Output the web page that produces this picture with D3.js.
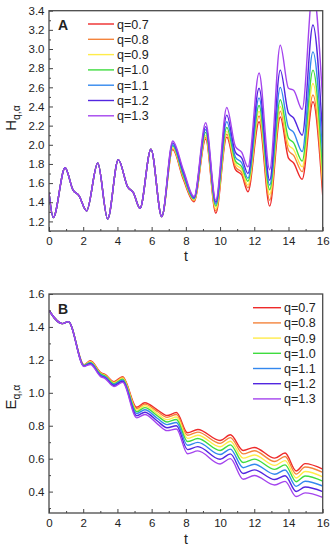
<!DOCTYPE html>
<html>
<head>
<meta charset="utf-8">
<script src="https://cdn.jsdelivr.net/npm/d3@7"></script>
<style>
  body { margin: 0; background: #fff; }
  svg { display: block; }
  text { font-family: "Liberation Sans", Arial, sans-serif; fill: #222; }
</style>
</head>
<body>
<script>
// legend labels and line colours (q = 0.7 ... 1.3)
var qLabels = ["q=0.7", "q=0.8", "q=0.9", "q=1.0", "q=1.1", "q=1.2", "q=1.3"];
var qColors = ["#ee2a2a", "#f4843c", "#ffec4a", "#3fdc3f", "#3388ee", "#5226e0", "#a444ee"];

var tTicks = [0, 2, 4, 6, 8, 10, 12, 14, 16];

// panel A : H_q,alpha vs t  (all curves coincide until t ~ 6.6)
var tH = [0, 0.25, 0.94, 1.4, 1.75, 2.2, 2.85, 3.43, 4.05, 4.6, 4.93, 5.32, 5.96, 6.59,
          7.23, 7.85, 8.48, 9.16, 9.75, 10.39, 10.9, 11.27, 11.63, 12.28, 12.9, 13.52, 14.0, 14.3, 14.8, 15.43, 16];
var hStart = [1.50, 1.24, 1.76, 1.53, 1.47, 1.31, 1.81, 1.225, 1.845, 1.56, 1.50, 1.337, 1.955, 1.25];
var h07 = hStart.concat([1.95, 1.64, 1.405, 2.06, 1.285, 2.08, 1.74, 1.685, 1.51, 2.24, 1.36, 2.29, 1.86, 1.81, 1.64, 2.45, 1.47]);
var h08 = hStart.concat([1.96, 1.655, 1.415, 2.08, 1.31, 2.11, 1.77, 1.71, 1.55, 2.30, 1.42, 2.35, 1.94, 1.89, 1.72, 2.52, 1.55]);
var h09 = hStart.concat([1.97, 1.67, 1.425, 2.10, 1.33, 2.14, 1.80, 1.74, 1.58, 2.35, 1.48, 2.40, 2.00, 1.95, 1.77, 2.64, 1.62]);
var h10 = hStart.concat([1.99, 1.68, 1.435, 2.13, 1.36, 2.18, 1.83, 1.77, 1.62, 2.41, 1.53, 2.47, 2.07, 2.02, 1.83, 2.78, 1.72]);
var h11 = hStart.concat([2.00, 1.70, 1.44, 2.16, 1.38, 2.24, 1.87, 1.81, 1.65, 2.49, 1.58, 2.60, 2.18, 2.13, 1.93, 2.97, 1.88]);
var h12 = hStart.concat([2.02, 1.72, 1.45, 2.19, 1.40, 2.31, 1.92, 1.86, 1.70, 2.59, 1.63, 2.78, 2.33, 2.28, 2.10, 3.25, 2.08]);
var h13 = hStart.concat([2.04, 1.74, 1.46, 2.23, 1.42, 2.39, 1.98, 1.92, 1.77, 2.75, 1.74, 3.04, 2.59, 2.57, 2.37, 3.62, 2.45]);

// panel B : E_q,alpha vs t
var tE = [0, 0.78, 1.13, 2.05, 2.42, 3.0, 3.3, 3.8, 4.3, 5.13, 5.6, 6.35, 6.9, 7.45, 8.1, 8.7,
          10.0, 10.6, 11.35, 12.0, 13.2, 13.8, 14.45, 14.97, 16];
var eStart = [1.50, 1.42, 1.432];
var e07 = eStart.concat([1.170, 1.195, 1.125, 1.110, 1.068, 1.098, 0.912, 0.940, 0.895, 0.862, 0.880, 0.757, 0.777, 0.710, 0.745, 0.650, 0.668, 0.603, 0.634, 0.525, 0.570, 0.537]);
var e08 = eStart.concat([1.169, 1.192, 1.122, 1.107, 1.064, 1.094, 0.904, 0.931, 0.885, 0.851, 0.868, 0.742, 0.761, 0.693, 0.728, 0.629, 0.648, 0.583, 0.613, 0.506, 0.549, 0.517]);
var e09 = eStart.concat([1.167, 1.189, 1.118, 1.103, 1.060, 1.089, 0.895, 0.921, 0.872, 0.837, 0.853, 0.723, 0.742, 0.672, 0.706, 0.603, 0.622, 0.559, 0.588, 0.483, 0.522, 0.490]);
var e10 = eStart.concat([1.166, 1.185, 1.115, 1.100, 1.055, 1.083, 0.885, 0.910, 0.859, 0.823, 0.838, 0.704, 0.722, 0.650, 0.684, 0.577, 0.597, 0.535, 0.562, 0.460, 0.495, 0.464]);
var e11 = eStart.concat([1.164, 1.181, 1.110, 1.095, 1.050, 1.077, 0.874, 0.897, 0.844, 0.807, 0.820, 0.681, 0.699, 0.625, 0.658, 0.545, 0.566, 0.505, 0.531, 0.432, 0.463, 0.434]);
var e12 = eStart.concat([1.162, 1.177, 1.105, 1.090, 1.044, 1.070, 0.861, 0.882, 0.827, 0.788, 0.800, 0.655, 0.673, 0.596, 0.629, 0.510, 0.532, 0.473, 0.496, 0.401, 0.428, 0.400]);
var e13 = eStart.concat([1.160, 1.172, 1.100, 1.085, 1.038, 1.063, 0.848, 0.868, 0.810, 0.770, 0.780, 0.630, 0.647, 0.568, 0.600, 0.475, 0.498, 0.440, 0.462, 0.370, 0.392, 0.365]);

var svg = d3.select("body").append("svg")
    .attr("width", 336)
    .attr("height", 550);

var plotLeft = 49, plotRight = 322.7;

function drawPanel(p) {
  var x = d3.scaleLinear().domain([0, 16]).range([plotLeft, plotRight]);
  var y = d3.scaleLinear().domain(p.yDomain).range([p.bottom, p.top]);
  var g = svg.append("g");

  g.append("clipPath").attr("id", "clip" + p.id)
    .append("rect")
      .attr("x", plotLeft).attr("y", p.top)
      .attr("width", plotRight - plotLeft).attr("height", p.bottom - p.top);

  // curves
  var line = d3.line()
      .x(function(d) { return x(d[0]); })
      .y(function(d) { return y(d[1]); })
      .curve(d3.curveMonotoneX);

  g.append("g").attr("clip-path", "url(#clip" + p.id + ")")
    .selectAll("path")
    .data(p.series)
    .enter().append("path")
      .attr("d", function(s) { return line(p.t.map(function(t, i) { return [t, s[i]]; })); })
      .attr("fill", "none")
      .attr("stroke", function(s, i) { return qColors[i]; })
      .attr("stroke-width", 1.4);

  // axes (ticks point inward)
  g.append("g")
      .attr("transform", "translate(0," + p.bottom + ")")
      .call(d3.axisBottom(x).tickValues(tTicks).tickSize(-4).tickSizeOuter(0).tickPadding(6)
              .tickFormat(d3.format("d")));
  g.append("g")
      .attr("transform", "translate(0," + p.bottom + ")")
      .call(d3.axisBottom(x).tickValues(d3.range(1, 16, 2)).tickSize(-2).tickSizeOuter(0).tickFormat(""));
  g.append("g")
      .attr("transform", "translate(" + plotLeft + ",0)")
      .call(d3.axisLeft(y).tickValues(p.yMajor).tickSize(-4).tickSizeOuter(0).tickPadding(4.5)
              .tickFormat(d3.format(".1f")));
  g.append("g")
      .attr("transform", "translate(" + plotLeft + ",0)")
      .call(d3.axisLeft(y).tickValues(p.yMinor).tickSize(-2).tickSizeOuter(0).tickFormat(""));

  g.selectAll(".domain").remove();
  g.selectAll(".tick line").attr("stroke", "#444").attr("stroke-width", 1);
  g.selectAll(".tick text").style("font-size", "11.5px").attr("fill", "#222")
    .style("font-family", "'Liberation Sans', Arial, sans-serif");

  // frame
  g.append("rect")
      .attr("x", plotLeft).attr("y", p.top)
      .attr("width", plotRight - plotLeft).attr("height", p.bottom - p.top)
      .attr("fill", "none").attr("stroke", "#4a4a4a").attr("stroke-width", 1.3);

  // panel letter
  g.append("text")
      .attr("x", 58).attr("y", p.top + 19.5)
      .style("font-size", "14px").style("font-weight", "bold")
      .text(p.id);

  // axis titles
  g.append("text")
      .attr("x", (plotLeft + plotRight) / 2).attr("y", p.bottom + p.tGap)
      .attr("text-anchor", "middle")
      .style("font-size", "14px")
      .text("t");

  var yt = g.append("text")
      .attr("transform", "translate(15.5," + p.titleY + ") rotate(-90)")
      .attr("text-anchor", "middle")
      .style("font-size", "15px");
  yt.append("tspan").text(p.letter);
  yt.append("tspan").attr("dy", 4).style("font-size", "10.5px").text("q,α");

  // legend
  var leg = g.append("g");
  qLabels.forEach(function(lbl, i) {
    var ly = p.legY + i * p.legStep;
    leg.append("line")
        .attr("x1", p.legX).attr("x2", p.legX + p.legLen)
        .attr("y1", ly).attr("y2", ly)
        .attr("stroke", qColors[i]).attr("stroke-width", 1.4);
    leg.append("text")
        .attr("x", p.legX + p.legLen + 3).attr("y", ly).attr("dy", "0.36em")
        .style("font-size", "12.5px")
        .text(lbl);
  });
}

drawPanel({
  id: "A", letter: "H",
  top: 10.7, bottom: 231,
  yDomain: [1.1, 3.4],
  yMajor: d3.range(12, 35, 2).map(function(v) { return v / 10; }),
  yMinor: d3.range(11, 34, 2).map(function(v) { return v / 10; }),
  t: tH, series: [h07, h08, h09, h10, h11, h12, h13],
  titleY: 118, tGap: 29.5,
  legX: 88, legLen: 26, legY: 24, legStep: 15.3
});

drawPanel({
  id: "B", letter: "E",
  top: 294, bottom: 513,
  yDomain: [0.27, 1.6],
  yMajor: d3.range(4, 17, 2).map(function(v) { return v / 10; }),
  yMinor: d3.range(3, 16, 2).map(function(v) { return v / 10; }),
  t: tE, series: [e07, e08, e09, e10, e11, e12, e13],
  titleY: 397, tGap: 31,
  legX: 253, legLen: 28, legY: 307.7, legStep: 15.2
});
</script>
</body>
</html>
